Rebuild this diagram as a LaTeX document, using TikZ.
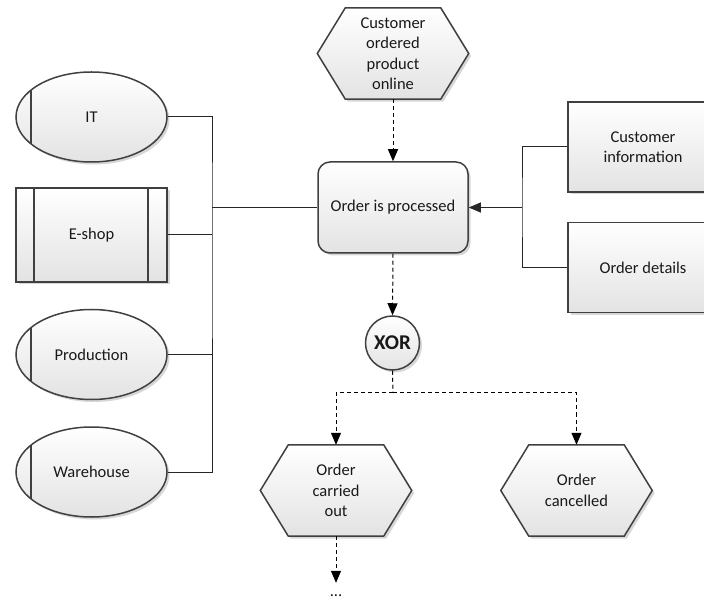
\documentclass[tikz,border=0pt]{standalone}
\usepackage{fontspec}
\setmainfont{Carlito}
\usetikzlibrary{shapes.geometric,arrows.meta,shadows,backgrounds,calc}
\begin{document}
\begin{tikzpicture}[x=1pt,y=-1pt,
  every node/.style={font=\fontsize{16.5}{20.5}\selectfont, text=black!90, align=center},
  boxfill/.style={top color=white, bottom color=black!11, draw=black!75, line width=1.5pt,
    drop shadow={shadow xshift=2.5pt, shadow yshift=-2.5pt, fill=black!35, opacity=0.45}},
  orgunit/.style={boxfill, ellipse, minimum width=151pt, minimum height=90pt, inner sep=0pt,
    path picture={\draw[black!75, line width=1.5pt]
      ([xshift=15pt]path picture bounding box.north west) --
      ([xshift=15pt]path picture bounding box.south west);}},
  sysbox/.style={boxfill, rectangle, minimum width=151pt, minimum height=94pt, inner sep=0pt,
    path picture={\draw[black!75, line width=1.5pt]
      ([xshift=18pt]path picture bounding box.north west) --
      ([xshift=18pt]path picture bounding box.south west)
      ([xshift=-19pt]path picture bounding box.north east) --
      ([xshift=-19pt]path picture bounding box.south east);}},
  funbox/.style={boxfill, rectangle, rounded corners=12pt, minimum width=150pt, minimum height=91pt},
  infobox/.style={boxfill, rectangle, minimum width=150pt, minimum height=90pt},
  hexnode/.style={rectangle, minimum width=151pt, minimum height=91pt, inner sep=0pt},
  xorc/.style={boxfill, circle, minimum size=54pt, inner sep=0pt,
    font=\fontsize{21}{25}\selectfont\bfseries},
  conn/.style={draw=black!85, line width=1pt},
  flow/.style={draw=black, line width=1pt, dash pattern=on 4pt off 3pt},
  tip/.style={-{Triangle[length=12pt,width=10pt]}}
]
\useasboundingbox (0,0) rectangle (704,601);
\clip (0,0) rectangle (704,601);

% organisational units and system
\node[orgunit] (it) at (91.5,117) {IT};
\node[sysbox]  (es) at (91.5,235) {E-shop};
\node[orgunit] (pr) at (91.5,354.5) {Production};
\node[orgunit] (wh) at (91.5,472) {Warehouse};

% events
\node[hexnode] (ev)  at (393,53.5)  {Customer\\ordered\\product\\online};
\node[hexnode] (oco) at (336,490.5) {Order\\carried\\out};
\node[hexnode] (occ) at (576.5,490.5) {Order\\cancelled};

% function, connector, information objects
\node[funbox]  (op)  at (393,207.5) {Order is processed};
\node[xorc]    (xor) at (392.5,343) {XOR};
\node[infobox] (ci)  at (643,147)   {Customer\\information};
\node[infobox] (od)  at (643,267.5) {Order details};

\node[anchor=base, inner sep=0pt, text height=13pt, text depth=0pt] (more) at (336,596) {...};

% hexagon outlines behind the event labels
\begin{scope}[on background layer]
  \foreach \n in {ev,oco,occ}
    \path[boxfill] (\n.west) -- ([xshift=28pt]\n.north west) -- ([xshift=-28pt]\n.north east)
      -- (\n.east) -- ([xshift=-28pt]\n.south east) -- ([xshift=28pt]\n.south west) -- cycle;
\end{scope}

% bus lines
\coordinate (busL) at (212,207.5);
\coordinate (busR) at (522,207.5);
\coordinate (split) at (393,393);

\draw[conn] (it.east) -| (busL) |- (wh.east);
\draw[conn] (es.east) -- (es.east -| busL);
\draw[conn] (pr.east) -- (pr.east -| busL);
\draw[conn] (busL) -- (op.west);

\draw[conn] (ci.west) -| (busR) |- (od.west);
\draw[conn, tip] (busR) -- (op.east);

% control flow
\draw[flow, tip] (ev.south) -- (op.north);
\draw[flow, tip] (op.south) -- (xor.north);
\draw[flow] (xor.south) -- (split);
\draw[flow, tip] (split) -| (oco.north);
\draw[flow, tip] (split) -| (occ.north);
\draw[flow, tip] (oco.south) -- (more.north);
\end{tikzpicture}
\end{document}
